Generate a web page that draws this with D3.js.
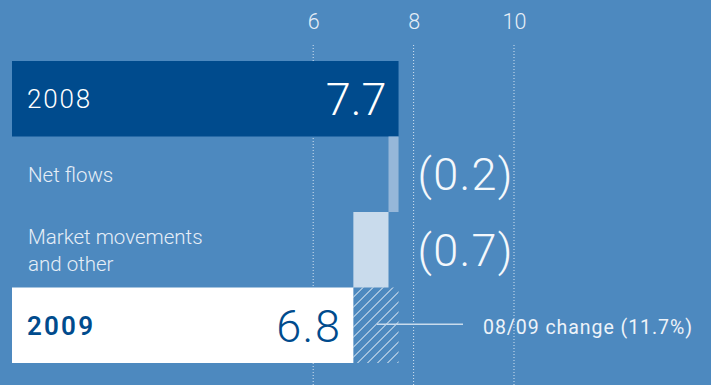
<!DOCTYPE html>
<html>
<head>
<meta charset="utf-8">
<script src="https://cdn.jsdelivr.net/npm/d3@7"></script>
<style>
  html, body { margin: 0; padding: 0; background: #4d89bf; }
  svg { display: block; }
  text { font-family: Roboto, "Liberation Sans", Arial, sans-serif; }
</style>
</head>
<body>
<script>
// ---- data ----
const categories = ["2008", "Net flows", "Market movements\nand other", "2009"];
const kinds = ["total", "change", "change", "total"];
const values = [7.7, -0.2, -0.7, 6.8];
const valueLabels = ["7.7", "(0.2)", "(0.7)", "6.8"];
const ticks = [6, 8, 10];
const changeLabel = "08/09 change (11.7%)";

const W = 711, H = 385;
const NUMFONT = "'Open Sans', Roboto, 'Liberation Sans', sans-serif";
const svg = d3.select("body").append("svg").attr("width", W).attr("height", H);
svg.append("rect").attr("width", W).attr("height", H).attr("fill", "#4d89bf");

const x = d3.scaleLinear().domain([0, 10]).range([12, 514]);
const y = d3.scaleBand().domain(categories).range([61, 363]).padding(0);

// gridlines + tick labels (top axis)
const axis = d3.axisTop(x).tickValues(ticks).tickSize(0).tickPadding(0);
const gAxis = svg.append("g").attr("transform", "translate(0,29)").call(axis);
gAxis.select(".domain").remove();
gAxis.selectAll("text")
  .attr("fill", "#e6eef7")
  .attr("font-size", 21.5)
  .attr("font-weight", 300)
  .attr("font-family", NUMFONT)
  .attr("dy", 0);

svg.append("g").selectAll("line").data(ticks).join("line")
  .attr("x1", d => x(d)).attr("x2", d => x(d))
  .attr("y1", 45).attr("y2", H)
  .attr("stroke", "#d3e2f0").attr("stroke-width", 1)
  .attr("stroke-dasharray", "1,2");

// compute waterfall segments
let running = 0;
const segs = categories.map((c, i) => {
  let x0, x1;
  if (kinds[i] === "total") { x0 = 0; x1 = values[i]; running = values[i]; }
  else { x0 = running + values[i]; x1 = running; running = running + values[i]; }
  return { c, i, kind: kinds[i], v: values[i], x0, x1, label: valueLabels[i] };
});

const fills = ["#004b8d", "#96b7d9", "#c9dbec", "#ffffff"];

// hatch pattern for the change in the last row
const defs = svg.append("defs");
const pat = defs.append("pattern").attr("id", "hatch")
  .attr("patternUnits", "userSpaceOnUse")
  .attr("width", 7.07).attr("height", 7.07)
  .attr("patternTransform", "rotate(45)");
pat.append("line").attr("x1", 0).attr("y1", 0).attr("x2", 0).attr("y2", 7.07)
  .attr("stroke", "#ffffff").attr("stroke-width", 1.4);

// bars
svg.append("g").selectAll("rect").data(segs).join("rect")
  .attr("x", d => x(d.x0))
  .attr("y", d => y(d.c))
  .attr("width", d => x(d.x1) - x(d.x0))
  .attr("height", y.bandwidth())
  .attr("fill", (d, i) => fills[i]);

// hatched change area (2009 vs 2008)
const first = values[0], last = values[values.length - 1];
svg.append("rect")
  .attr("x", x(last)).attr("y", y(categories[3]))
  .attr("width", x(first) - x(last)).attr("height", y.bandwidth())
  .attr("fill", "url(#hatch)");

// connector line and change label
const cy = y(categories[3]) + y.bandwidth() / 2 - 1;
svg.append("line")
  .attr("x1", x((first + last) / 2) + 1).attr("x2", 463)
  .attr("y1", cy).attr("y2", cy)
  .attr("stroke", "#c9dbec").attr("stroke-width", 1.5);
svg.append("text")
  .attr("x", 483).attr("y", cy + 9.3)
  .attr("fill", "#eef3f9").attr("font-size", 19.5)
  .attr("letter-spacing", 0.95)
  .text(changeLabel);

// category labels
segs.forEach(d => {
  const cyy = y(d.c) + y.bandwidth() / 2;
  const lines = d.c.split("\n");
  if (d.kind === "total") {
    const dark = d.i === 3;
    svg.append("text")
      .attr("x", 27).attr("y", cyy + 9.5)
      .attr("fill", dark ? "#004b8d" : "#ffffff")
      .attr("font-size", 26)
      .attr("font-family", NUMFONT)
      .attr("font-weight", dark ? 600 : 300)
      .attr("letter-spacing", dark ? 2.2 : 1.8)
      .text(d.c);
    svg.append("text")
      .attr("x", x(d.x1) - 12).attr("y", cyy + 16.5)
      .attr("text-anchor", "end")
      .attr("fill", dark ? "#004b8d" : "#ffffff")
      .attr("font-size", 45)
      .attr("font-family", NUMFONT)
      .attr("font-weight", 300)
      .attr("letter-spacing", dark ? 1.5 : 0)
      .text(d.label);
  } else {
    const lh = 26.7;
    const t = svg.append("text")
      .attr("fill", "#e6eef7").attr("font-size", 20.5).attr("font-weight", 300);
    lines.forEach((ln, k) => {
      t.append("tspan").attr("x", 28)
        .attr("y", cyy + 7.5 + (k - (lines.length - 1) / 2) * lh)
        .text(ln);
    });
    svg.append("text")
      .attr("x", x(first) + 19).attr("y", cyy + 16)
      .attr("fill", "#f4f8fc")
      .attr("font-size", 45)
      .attr("font-family", NUMFONT)
      .attr("font-weight", 300)
      .attr("letter-spacing", 1.3)
      .text(d.label);
  }
});
</script>
</body>
</html>
